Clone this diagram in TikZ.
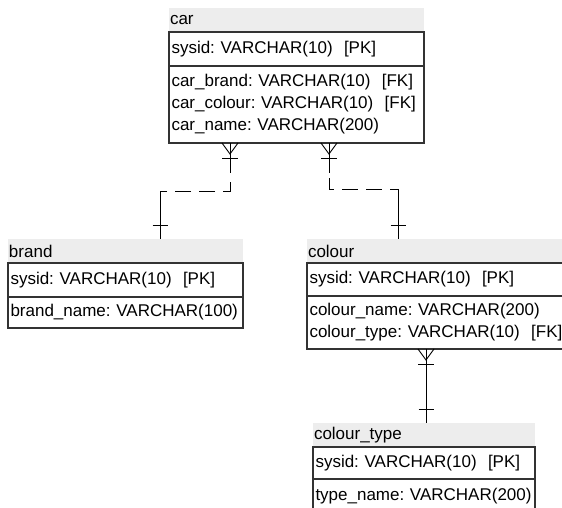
\documentclass[tikz,border=0pt]{standalone}
\usepackage{fontspec}
\setmainfont{Liberation Sans}
\usetikzlibrary{calc}
\frenchspacing
\hyphenpenalty=10000

\begin{document}
\begin{tikzpicture}[x=1pt, y=-1pt,
    font=\fontsize{17}{22}\selectfont,
    head/.style={anchor=north west, fill=black!7, inner xsep=1pt, inner ysep=0pt, outer sep=0pt, align=left, minimum height=24pt},
    field/.style={anchor=north west, draw=black!80, line width=1.4pt, inner xsep=2.5pt, inner ysep=0pt, outer sep=0pt, align=left},
    rel/.style={line width=0.9pt},
    fkdash/.style={rel, dash pattern=on 16pt off 8pt}]
    \useasboundingbox (0,0) rectangle (562,508);
    \clip (0,0) rectangle (562,508);
    % tables
    \foreach \n/\title/\x/\y/\w/\pkh/\ath/\attrs in {
        car/car/169/8/255/34/77/{car\_brand: VARCHAR(10)\ \ [FK]\\car\_colour: VARCHAR(10)\ \ [FK]\\car\_name: VARCHAR(200)},
        brand/brand/8/239/235/34/31/{brand\_name: VARCHAR(100)},
        colour/colour/307/239/268/33/53/{colour\_name: VARCHAR(200)\\colour\_type: VARCHAR(10)\ \ [FK]},
        colourtype/colour\_type/313/423/222/32/34/{type\_name: VARCHAR(200)}} {
        \pgfmathsetmacro\hw{\w-2}
        \pgfmathsetmacro\fw{\w-5}
        \node[head, minimum width=\w pt, text width=\hw pt] (\n H) at (\x,\y) {\title};
        \node[field, minimum width=\w pt, text width=\fw pt, minimum height=\pkh pt] (\n P) at (\n H.south west) {sysid: VARCHAR(10)\ \ [PK]};
        \node[field, minimum width=\w pt, text width=\fw pt, minimum height=\ath pt] (\n A) at (\n P.south west) {\attrs};
    }
    % relationship ends
    \coordinate (fkb) at ([xshift=61pt]carA.south west);
    \coordinate (fkc) at ([xshift=160pt]carA.south west);
    \coordinate (fkt) at ([xshift=119pt]colourA.south west);
    \coordinate (pkb) at ([xshift=152pt]brandH.north west);
    \coordinate (pkc) at ([xshift=91pt]colourH.north west);
    \coordinate (pkt) at ([xshift=113pt]colourtypeH.north west);
    % crow's feet and ticks
    \foreach \c in {fkb,fkc,fkt} {
        \draw[rel] (\c) ++(-8,0) -- ++(8,11) -- ++(8,-11);
        \draw[rel] (\c) ++(-8,15) -- ++(16,0);
    }
    \foreach \c in {pkb,pkc,pkt}
        \draw[rel] (\c) ++(-7.5,-14) -- ++(15,0);
    % car -> brand
    \draw[rel] (fkb) -- ($(fkb)+(0,30)$);
    \draw[fkdash] ($(fkb)+(0,39)$) |- ($(pkb)+(0,-48)$);
    \draw[rel] ($(pkb)+(0,-48)$) -- (pkb);
    % car -> colour
    \draw[rel] (fkc) -- ($(fkc)+(0,30)$);
    \draw[fkdash] ($(fkc)+(0,35)$) |- ($(pkc)+(0,-50)$);
    \draw[rel] ($(pkc)+(0,-50)$) -- (pkc);
    % colour -> colour_type
    \draw[rel] (fkt) -- (pkt);
\end{tikzpicture}
\end{document}
